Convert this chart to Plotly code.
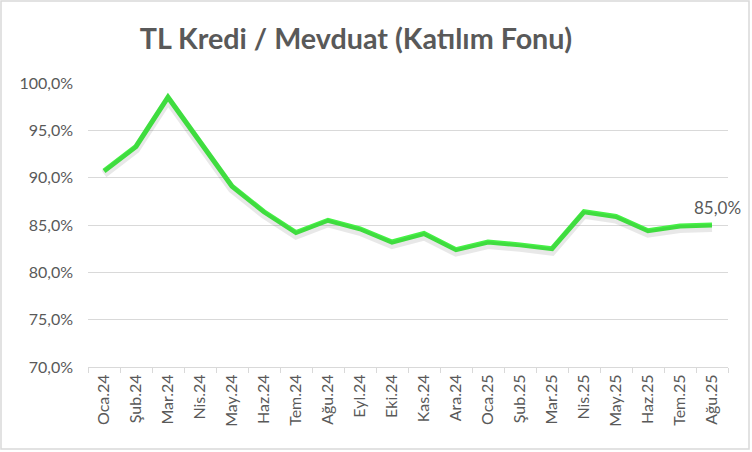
import plotly.graph_objects as go

months = ["Oca.24", "Şub.24", "Mar.24", "Nis.24", "May.24", "Haz.24", "Tem.24", "Ağu.24",
          "Eyl.24", "Eki.24", "Kas.24", "Ara.24", "Oca.25", "Şub.25", "Mar.25", "Nis.25",
          "May.25", "Haz.25", "Tem.25", "Ağu.25"]
ratio = [90.7, 93.3, 98.5, 93.9, 89.1, 86.4, 84.2, 85.5, 84.6, 83.2, 84.1, 82.4,
         83.2, 82.9, 82.5, 86.4, 85.9, 84.4, 84.9, 85.0]
title_text = "TL Kredi / Mevduat (Katılım Fonu)"

W, H = 752, 452
L, R, T, B = 88, 24, 83, 85
y_min, y_max = 70, 100
px_per_unit = (H - T - B) / (y_max - y_min)
shadow_shift = 3 / px_per_unit

last_label = f"{ratio[-1]:.1f}%".replace(".", ",")

txt = "#595959"
grid = "#D9D9D9"
fnt = "Lato"

fig = go.Figure()
fig.add_trace(go.Scatter(
    x=months, y=ratio, mode="lines", yaxis="y2",
    line=dict(color="rgba(0,0,0,0.09)", width=8),
    hoverinfo="skip", showlegend=False))
fig.add_trace(go.Scatter(
    x=months, y=ratio, mode="lines",
    line=dict(color="#46F246", width=5), showlegend=False, cliponaxis=False))

fig.add_annotation(x=months[-1], y=ratio[-1], text=last_label, showarrow=False,
                   xshift=5, yshift=18, font=dict(family=fnt, size=17, color=txt))

fig.update_layout(
    width=W, height=H,
    margin=dict(l=L, r=R, t=T, b=B),
    paper_bgcolor="white", plot_bgcolor="white",
    separators=",.",
    font=dict(family=fnt, color=txt),
    title=dict(text=f"<b>{title_text}</b>", x=356 / W, xref="container", xanchor="center",
               y=1 - 39 / H, yref="container", yanchor="middle",
               font=dict(family=fnt, size=28.7, color=txt)),
    xaxis=dict(type="category", tickangle=-90, tickfont=dict(family=fnt, size=16, color=txt),
               showgrid=False, showline=True, linecolor=grid, linewidth=1,
               ticks="outside", ticklen=5, tickcolor=grid, tickson="boundaries",
               range=[-0.5, len(months) - 0.5], zeroline=False),
    yaxis=dict(range=[y_min, y_max], dtick=5, tickformat=".1f", ticksuffix="%",
               tickfont=dict(family=fnt, size=16, color=txt),
               showgrid=True, gridcolor=grid, gridwidth=1, showline=False,
               zeroline=False, ticks="", ticklabelstandoff=14),
    yaxis2=dict(range=[y_min + shadow_shift, y_max + shadow_shift], overlaying="y",
                visible=False, showgrid=False),
)

# chart border
fig.add_shape(type="rect", xref="paper", yref="paper",
              x0=(1 - L) / (W - L - R), x1=(749 - L) / (W - L - R),
              y0=(H - B - 449) / (H - T - B), y1=(H - B - 1) / (H - T - B),
              line=dict(color=grid, width=1.5), fillcolor="rgba(0,0,0,0)", layer="below")

fig.write_html("out.html", config={"displayModeBar": False},
               post_script="document.body.style.margin='0';")
